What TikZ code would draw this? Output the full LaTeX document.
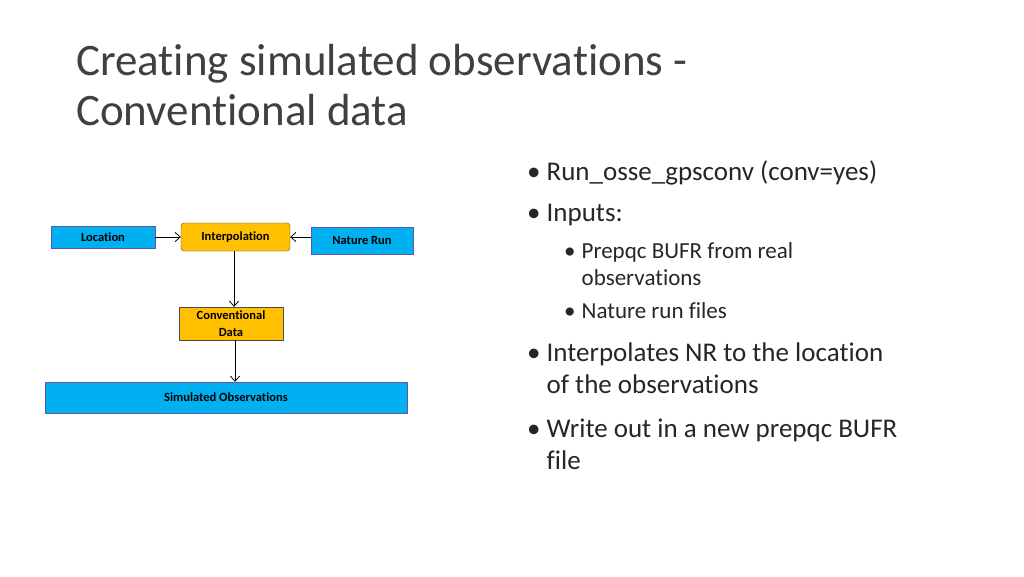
\documentclass[tikz,border=0pt]{standalone}
\usepackage{fontspec}
\setmainfont{Carlito}[Ligatures=NoCommon]
\usetikzlibrary{arrows.meta}
\definecolor{boxblue}{RGB}{0,176,240}
\definecolor{boxgold}{RGB}{255,192,0}
\definecolor{titlegray}{RGB}{64,64,64}
\begin{document}
\begin{tikzpicture}[x=1pt,y=-1pt,
    every node/.style = {inner sep=0pt},
    bluebox/.style = {draw=gray!70!blue, fill=boxblue, font=\bfseries\fontsize{12.5}{14}\selectfont, align=center},
    goldbox/.style = {draw=black!70, fill=boxgold, font=\bfseries\fontsize{12.5}{17}\selectfont, align=center},
    flow/.style = {-{Straight Barb[length=5pt,width=9pt]}, thick},
    item/.style = {anchor=west, font=\fontsize{27}{32}\selectfont, align=left, text=black!85},
    subitem/.style = {anchor=west, font=\fontsize{23}{27}\selectfont, align=left, text=black!85}]
  \useasboundingbox (0,0) rectangle (1024,576);
  \node[anchor=west, font=\fontsize{45}{50}\selectfont, text=titlegray, align=left] (title) at (76,85)
    {Creating simulated observations -\\Conventional data};
  % diagram
  \node[bluebox, minimum width=104pt, minimum height=22pt] (loc) at (103,237) {Location};
  \node[goldbox, rounded corners=3pt, minimum width=109pt, minimum height=28pt] (interp) at (235.5,237) {Interpolation};
  \node[bluebox, minimum width=102pt, minimum height=27pt] (nature) at (362,240.5) {Nature Run};
  \node[goldbox, minimum width=104pt, minimum height=33pt] (conv) at (231,323.5) {Conventional\\Data};
  \node[bluebox, minimum width=362pt, minimum height=31pt] (sim) at (226,397.5) {Simulated Observations};
  \coordinate (d1) at (234,0);
  \coordinate (d2) at (235,0);
  \draw[flow] (loc.east) -- (interp.west);
  \draw[flow] (nature.west |- interp) -- (interp.east);
  \draw[flow] (d1 |- interp.south) -- (d1 |- conv.north);
  \draw[flow] (d2 |- conv.south) -- (d2 |- sim.north);
  % bullets
  \node[item] (b1) at (527,173) {•\hspace{6pt}Run\_osse\_gpsconv (conv=yes)};
  \node[item] (b2) at (527,215) {•\hspace{6pt}Inputs:};
  \node[subitem] (s1) at (564,264) {•\hspace{6pt}\parbox[t]{300pt}{Prepqc BUFR from real\\observations}};
  \node[subitem] (s2) at (564,311) {•\hspace{6pt}Nature run files};
  \node[item] (b3) at (527,368) {•\hspace{6pt}\parbox[t]{400pt}{Interpolates NR to the location\\of the observations}};
  \node[item] (b4) at (527,444) {•\hspace{6pt}\parbox[t]{400pt}{Write out in a new prepqc BUFR\\file}};
\end{tikzpicture}
\end{document}
